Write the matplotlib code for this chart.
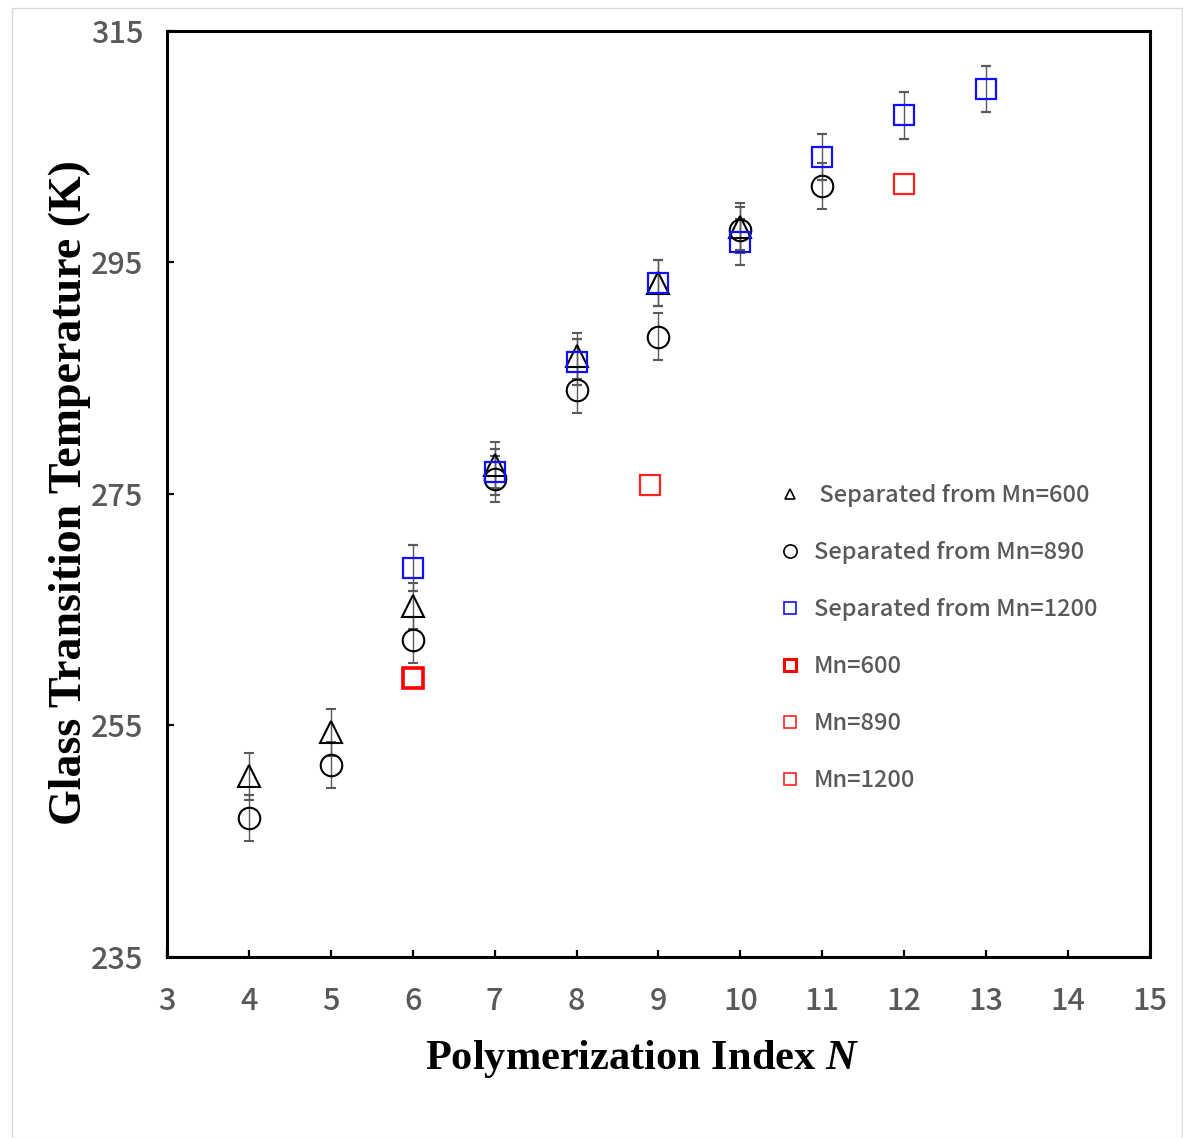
import matplotlib
matplotlib.use("Agg")
import matplotlib.pyplot as plt
from matplotlib.lines import Line2D
from matplotlib.patches import Rectangle

# separated fractions (N, Tg, error)
n_sep600 = [4, 5, 6, 7, 8, 9, 10]
tg_sep600 = [250.6, 254.4, 265.3, 277.5, 286.9, 293.2, 298.1]
n_sep890 = [4, 5, 6, 7, 8, 9, 10, 11]
tg_sep890 = [247.0, 251.6, 262.4, 276.3, 284.0, 288.6, 297.8, 301.6]
n_sep1200 = [6, 7, 8, 9, 10, 11, 12, 13]
tg_sep1200 = [268.6, 276.9, 286.4, 293.2, 296.8, 304.1, 307.7, 310.0]
err = 2.0

# unseparated samples
n_mn600, tg_mn600 = [6.0], [259.1]
n_mn890, tg_mn890 = [8.9], [275.75]
n_mn1200, tg_mn1200 = [12.0], [301.8]

labels = [" Separated from Mn=600", "Separated from Mn=890", "Separated from Mn=1200",
          "Mn=600", "Mn=890", "Mn=1200"]

xticks = list(range(3, 16))
yticks = [235, 255, 275, 295, 315]

plt.rcParams['mathtext.fontset'] = 'custom'
plt.rcParams['mathtext.it'] = 'Liberation Serif:bold:italic'
plt.rcParams['mathtext.rm'] = 'Liberation Serif:bold'

fig = plt.figure(figsize=(11.83, 11.38), dpi=100)
ax = fig.add_axes([167/1183, 1-957/1138, (1150-167)/1183, (957-31)/1138])

ebar = dict(ecolor='#5a5a5a', elinewidth=1.0, capsize=3.5, capthick=1.0, linestyle='none')
ax.errorbar(n_sep600, tg_sep600, yerr=err, marker='^', ms=15.5, mfc='none', mec='black', mew=1.5, zorder=3, **ebar)
ax.errorbar(n_sep890, tg_sep890, yerr=err, marker='o', ms=15.5, mfc='none', mec='black', mew=1.5, zorder=3, **ebar)
ax.errorbar(n_sep1200, tg_sep1200, yerr=err, marker='s', ms=15, mfc='none', mec='#1010ff', mew=1.6, zorder=3, **ebar)
ax.plot(n_mn600, tg_mn600, marker='s', ms=14, mfc='none', mec='#ff0000', mew=2.6, linestyle='none')
ax.plot(n_mn890, tg_mn890, marker='s', ms=15, mfc='none', mec='#ff2020', mew=1.6, linestyle='none')
ax.plot(n_mn1200, tg_mn1200, marker='s', ms=15, mfc='none', mec='#ff2020', mew=1.6, linestyle='none')

ax.set_xlim(3, 15)
ax.set_ylim(235, 315)
ax.set_xticks(xticks)
ax.set_yticks(yticks)
for s in ax.spines.values():
    s.set_linewidth(2.2)
ax.tick_params(direction='in', length=5, width=1.6, labelsize=22, labelcolor='#595959')
ax.tick_params(axis='x', pad=21)
ax.tick_params(axis='y', pad=17)
for t in ax.get_xticklabels() + ax.get_yticklabels():
    t.set_fontfamily('Noto Sans CJK JP')
    t.set_fontweight(500)

ax.set_xlabel("Polymerization Index $N$", fontsize=30.5, fontfamily='Liberation Serif',
              fontweight='bold')
ax.xaxis.set_label_coords(0.483, -0.087)
ax.set_ylabel("Glass Transition Temperature (K)", fontsize=33, fontfamily='Liberation Serif',
              fontweight='bold')
ax.yaxis.set_label_coords(-0.077, 0.502)

handles = [
    Line2D([], [], marker='^', ms=7.5, mfc='none', mec='black', mew=1.2, linestyle='none'),
    Line2D([], [], marker='o', ms=9.5, mfc='none', mec='black', mew=1.2, linestyle='none'),
    Line2D([], [], marker='s', ms=9, mfc='none', mec='#1010ff', mew=1.2, linestyle='none'),
    Line2D([], [], marker='s', ms=8.5, mfc='none', mec='#ff0000', mew=2.2, linestyle='none'),
    Line2D([], [], marker='s', ms=9, mfc='none', mec='#ff2020', mew=1.2, linestyle='none'),
    Line2D([], [], marker='s', ms=9, mfc='none', mec='#ff2020', mew=1.2, linestyle='none'),
]
leg = ax.legend(handles, labels, loc='upper left', bbox_to_anchor=(0.605, 0.534), frameon=False,
                prop={'family': 'Noto Sans CJK JP', 'size': 17, 'weight': 500}, labelcolor='#595959',
                handlelength=0.6, handletextpad=0.7, labelspacing=1.44)

fig.patches.append(Rectangle((12/1183, 0), 1170/1183, 1-8/1138, transform=fig.transFigure,
                             fill=False, edgecolor='#d9d9d9', linewidth=1.0))

fig.savefig("out.png", dpi=100)
